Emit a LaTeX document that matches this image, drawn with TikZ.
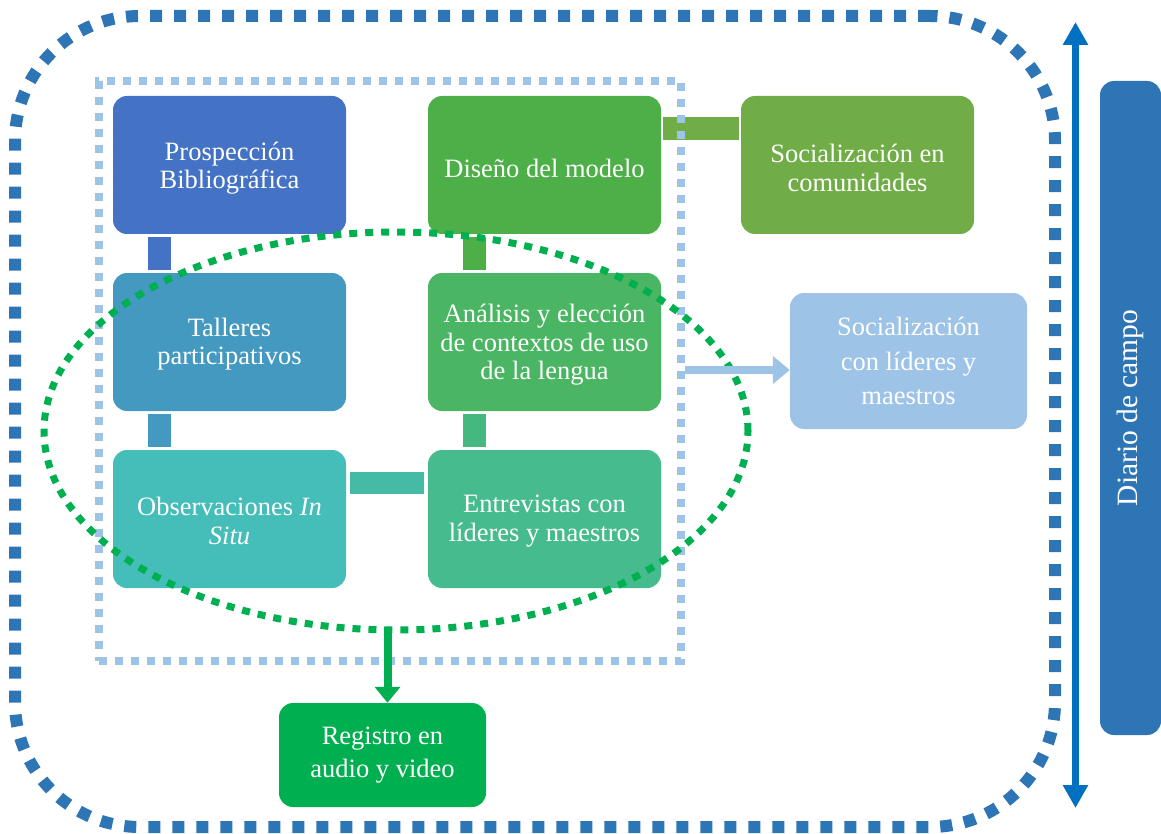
\documentclass[tikz,border=0pt]{standalone}
\usepackage{fontspec}
\setmainfont{Liberation Serif}
\usetikzlibrary{arrows.meta,shapes.geometric}

\definecolor{cProsp}{HTML}{4472C4}
\definecolor{cDiseno}{HTML}{4CAF48}
\definecolor{cSocCom}{HTML}{70AD47}
\definecolor{cTalleres}{HTML}{4499C1}
\definecolor{cAnalisis}{HTML}{4AB562}
\definecolor{cObs}{HTML}{45BDB8}
\definecolor{cEntrev}{HTML}{45BB8E}
\definecolor{cObsEnt}{HTML}{45BBA5}
\definecolor{cAnaEnt}{HTML}{45B880}
\definecolor{cSocLid}{HTML}{9DC3E6}
\definecolor{cRegistro}{HTML}{00B050}
\definecolor{cDiario}{HTML}{2E75B6}
\definecolor{cFlecha}{HTML}{0070C0}

\begin{document}
\begin{tikzpicture}[x=1pt, y=-1pt,
  paso/.style={shape=rectangle, rounded corners=14pt, inner sep=0, minimum width=233pt, minimum height=138pt},
  texto/.style={anchor=center, align=center, inner sep=0, text=white, font=\fontsize{26.5}{28.5}\selectfont},
  enlace/.style={line width=23pt, shorten >=3pt, shorten <=3pt},
  flecha/.style={line width=8pt, -{Triangle[length=17pt, width=27pt]}}]
  \useasboundingbox (0,0) rectangle (1161,834);
  % Cajas:
  \node[paso, fill=cProsp] (prosp) at (229.5,165) {};
  \node[texto] (tprosp) at ([yshift=-3pt]prosp.center) {Prospección\\Bibliográfica};
  \node[paso, fill=cDiseno] (diseno) at (544.5,165) {};
  \node[texto] (tdiseno) at ([yshift=-3pt]diseno.center) {Diseño del modelo};
  \node[paso, fill=cSocCom] (soccom) at (857.5,165) {};
  \node[texto] (tsoccom) at ([yshift=-3pt]soccom.center) {Socialización en\\comunidades};
  \node[paso, fill=cTalleres] (talleres) at (229.5,342) {};
  \node[texto] (ttalleres) at ([yshift=-2pt]talleres.center) {Talleres\\participativos};
  \node[paso, fill=cAnalisis] (analisis) at (544.5,342) {};
  \node[texto] (tanalisis) at ([yshift=-3pt]analisis.center) {Análisis y elección\\de contextos de uso\\de la lengua};
  \node[paso, fill=cObs] (obs) at (229.5,519) {};
  \node[texto] (tobs) at ([yshift=-2pt]obs.center) {Observaciones \textit{In}\\\textit{Situ}};
  \node[paso, fill=cEntrev] (entrev) at (544.5,519) {};
  \node[texto] (tentrev) at ([yshift=-2pt]entrev.center) {Entrevistas con\\líderes y maestros};
  \node[paso, fill=cSocLid, minimum width=237pt, minimum height=136pt] (soclid) at (908.5,361) {};
  \node[texto, font=\fontsize{26.5}{34.5}\selectfont] (tsoclid) at (soclid.center) {Socialización\\con líderes y\\maestros};
  \node[paso, fill=cRegistro, minimum width=207pt, minimum height=104pt] (registro) at (382.5,755) {};
  \node[texto, font=\fontsize{26.5}{33}\selectfont] (tregistro) at (registro.center) {Registro en\\audio y video};
  \node[paso, fill=cDiario, minimum width=61pt, minimum height=654pt] (diario) at (1130.5,408) {};
  \node[texto, rotate=90, font=\fontsize{29.5}{32}\selectfont] (tdiario) at (diario.center) {Diario de campo};
  % Enlaces:
  \draw[enlace, cProsp] ([xshift=-70pt]prosp.south) -- ([xshift=-70pt]talleres.north);
  \draw[enlace, cTalleres] ([xshift=-70pt]talleres.south) -- ([xshift=-70pt]obs.north);
  \draw[enlace, cDiseno] ([xshift=-70pt]analisis.north) -- ([xshift=-70pt]diseno.south);
  \draw[enlace, cAnaEnt] ([xshift=-70pt]entrev.north) -- ([xshift=-70pt]analisis.south);
  \draw[enlace, cObsEnt, line width=22pt, shorten >=4pt, shorten <=4pt] ([yshift=36pt]obs.east) -- ([yshift=36pt]entrev.west);
  \draw[enlace, cSocCom, shorten >=2pt, shorten <=2pt] ([yshift=36.5pt]diseno.east) -- ([yshift=36.5pt]soccom.west);
  % Marcos:
  \node[draw=cSocLid, line width=8pt, dash pattern=on 8pt off 8pt, inner sep=0, minimum width=582pt, minimum height=580pt] (fase) at (390,371) {};
  \node[draw=cRegistro, ellipse, line width=7pt, dash pattern=on 8pt off 8pt, inner sep=0, minimum width=704pt, minimum height=398pt] (elipse) at (396,431) {};
  \node[draw=cDiario, line width=12pt, dash pattern=on 12pt off 12pt, rounded corners=125pt, inner sep=0, minimum width=1040pt, minimum height=811pt] (marco) at (535,421.5) {};
  % Flechas:
  \draw[flecha, cSocLid] ([yshift=-9pt]soclid.west -| fase.east) -- ([yshift=-9pt]soclid.west);
  \draw[flecha, cRegistro, -{Triangle[length=16pt, width=25pt]}] ([xshift=5pt, yshift=7pt]registro.north |- elipse.south) -- ([xshift=5pt]registro.north);
  \coordinate (diaT) at (1075.5,22);
  \coordinate (diaB) at (1075.5,808);
  \draw[line width=7pt, cFlecha, {Triangle[length=23pt, width=24pt]}-{Triangle[length=23pt, width=24pt]}] (diaT) -- (diaB);
\end{tikzpicture}
\end{document}
